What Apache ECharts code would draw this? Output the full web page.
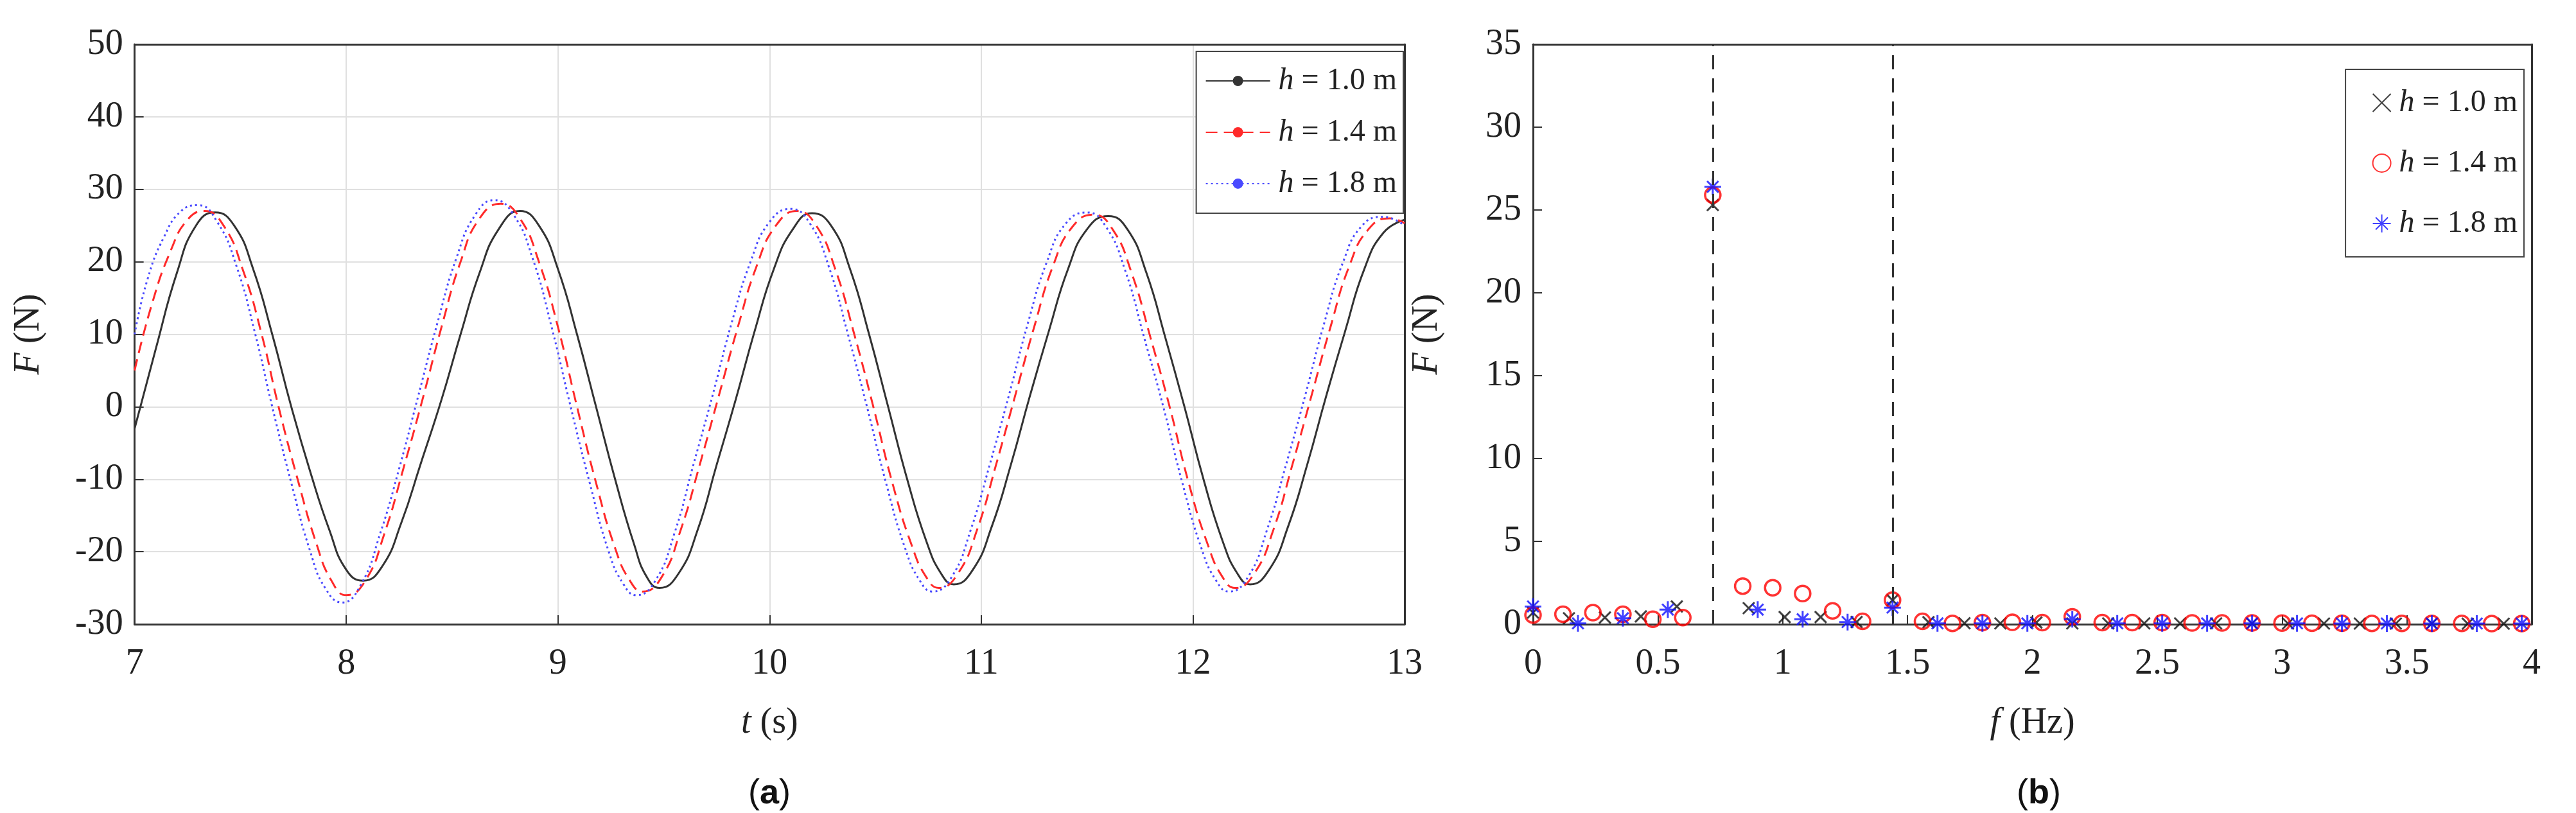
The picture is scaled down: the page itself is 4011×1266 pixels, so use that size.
<html>
<head>
<script src="https://cdn.jsdelivr.net/npm/echarts@6/dist/echarts.min.js"></script>
</head>
<body style="margin:0;background:#fff">
<div id="main" style="width:4011px;height:1266px;"></div>
<script>
  // (a) time series, [t (s), F (N)]
  var h10Time = [[7.0,-3],[7.1,8],[7.2,18.5],[7.29,25],[7.38,26.8],[7.47,25],[7.56,19],[7.65,10],[7.74,0],[7.83,-9],[7.92,-17],[8.0,-22.5],[8.08,-24],[8.17,-22],[8.26,-16],[8.35,-8],[8.45,1],[8.54,10],[8.63,18.5],[8.72,24.5],[8.82,27],[8.91,25],[9.0,19],[9.09,10],[9.18,0],[9.27,-10],[9.36,-19],[9.42,-23.5],[9.48,-25],[9.57,-23],[9.66,-17],[9.75,-8],[9.84,1],[9.93,10.5],[10.02,19],[10.11,24.5],[10.2,26.7],[10.29,25],[10.38,19],[10.47,10],[10.56,0],[10.65,-10],[10.74,-18.5],[10.81,-23],[10.87,-24.5],[10.96,-22.5],[11.05,-16.5],[11.14,-8],[11.23,1.5],[11.32,10.5],[11.41,19],[11.5,24.5],[11.6,26.3],[11.69,24.5],[11.78,18.5],[11.87,9.5],[11.96,0],[12.05,-10],[12.14,-18.5],[12.21,-23],[12.27,-24.5],[12.36,-22.5],[12.45,-16.5],[12.54,-8],[12.63,1.5],[12.72,10.5],[12.81,19],[12.9,24],[13.0,25.8]];
  var h14Time = [[7.0,5],[7.08,14],[7.17,21.5],[7.25,25.8],[7.33,27],[7.42,25],[7.51,19],[7.6,10],[7.68,0],[7.77,-10],[7.86,-19],[7.93,-24],[8.0,-26],[8.09,-24],[8.18,-17.5],[8.27,-8.5],[8.36,1],[8.45,11],[8.54,20],[8.63,26],[8.73,28],[8.82,26],[8.91,20],[9.0,11],[9.09,0],[9.18,-10.5],[9.27,-19.5],[9.34,-24],[9.4,-25.5],[9.49,-23.5],[9.58,-17],[9.67,-8],[9.76,1.5],[9.85,11],[9.94,19.5],[10.03,25],[10.13,27],[10.22,25],[10.31,19],[10.4,10],[10.49,0],[10.58,-10.5],[10.67,-19],[10.74,-23.5],[10.8,-25],[10.89,-23],[10.98,-17],[11.07,-8],[11.16,1.5],[11.25,11],[11.34,19.5],[11.43,24.8],[11.53,26.5],[11.62,24.5],[11.71,18.5],[11.8,9.5],[11.89,0],[11.98,-10.5],[12.07,-19],[12.14,-23.5],[12.2,-25],[12.29,-23],[12.38,-17],[12.47,-8],[12.56,1.5],[12.65,11],[12.74,19.5],[12.83,24.5],[12.93,26],[13.0,25.3]];
  var h18Time = [[7.0,10],[7.06,17.5],[7.14,23.5],[7.22,27],[7.3,27.8],[7.39,25.5],[7.48,19.5],[7.57,10],[7.65,0],[7.74,-10.5],[7.83,-20],[7.9,-25],[7.98,-27],[8.07,-24.5],[8.16,-17.5],[8.25,-8.5],[8.34,1.5],[8.43,11.5],[8.52,20.5],[8.61,26.5],[8.7,28.5],[8.79,26.5],[8.88,20.5],[8.97,11],[9.06,0],[9.15,-10.5],[9.24,-20],[9.31,-24.5],[9.37,-26],[9.46,-24],[9.55,-17.5],[9.64,-8],[9.73,1.5],[9.82,11.5],[9.91,20],[10.0,25.5],[10.1,27.3],[10.19,25.3],[10.28,19.3],[10.37,10],[10.46,0],[10.55,-10.5],[10.64,-19.5],[10.71,-24],[10.77,-25.5],[10.86,-23.5],[10.95,-17],[11.04,-8],[11.13,1.5],[11.22,11.5],[11.31,20],[11.4,25.3],[11.5,26.8],[11.59,24.8],[11.68,18.8],[11.77,9.5],[11.86,0],[11.95,-10.5],[12.04,-19.5],[12.11,-24],[12.17,-25.5],[12.26,-23.5],[12.35,-17],[12.44,-8],[12.53,1.5],[12.62,11.5],[12.71,20],[12.8,25],[12.9,26.2],[13.0,25]];

  // (b) spectra: frequency step and amplitudes per bin
  var h10Step = 0.144;
  var h10Amp = [0.7,0.36,0.4,0.47,1.07,25.3,0.97,0.43,0.43,0.13,1.45,0.12,0.06,0.05,0.1,0.05,0.05,0.05,0.05,0.05,0.04,0.04,0.04,0.04,0.04,0.04,0.03,0.03];
  var h14Step = 0.12;
  var h14Amp = [0.55,0.6,0.7,0.6,0.3,0.4,25.9,2.3,2.2,1.85,0.8,0.17,1.45,0.17,0.05,0.1,0.12,0.1,0.45,0.1,0.1,0.1,0.08,0.08,0.08,0.07,0.06,0.06,0.05,0.05,0.05,0.05,0.04,0.04];
  var h18Step = 0.18;
  var h18Amp = [1.07,0.05,0.36,0.88,26.4,0.88,0.3,0.13,1.0,0.05,0.05,0.05,0.3,0.05,0.05,0.05,0.05,0.05,0.04,0.04,0.04,0.04,0.04];
  var peakLines = [0.72, 1.44];

  var legendNames = ['h = 1.0 m', 'h = 1.4 m', 'h = 1.8 m'];

  function toPairs(step, amp) {
    return amp.map(function (v, i) { return [+(i * step).toFixed(3), v]; });
  }

  var font = 'Liberation Serif';
  var txt = { fontFamily: font, fontSize: 56, color: '#222' };
  var rich = { i: { fontFamily: font, fontStyle: 'italic', fontSize: 56, color: '#222' } };

  function xAx(idx, min, max, interval, nameHtml, grid) {
    return {
      gridIndex: idx, type: 'value', min: min, max: max, interval: interval,
      name: nameHtml, nameLocation: 'middle', nameGap: 92,
      nameTextStyle: { fontFamily: font, fontSize: 56, color: '#222', rich: rich },
      axisLine: { onZero: false, lineStyle: { color: '#333', width: 3 } },
      axisTick: { inside: true, length: 14, lineStyle: { color: '#333', width: 2 } },
      axisLabel: Object.assign({ margin: 20 }, txt),
      splitLine: { show: grid, lineStyle: { color: '#e0e0e0', width: 2 } }
    };
  }
  function yAx(idx, min, max, interval, grid) {
    return {
      gridIndex: idx, type: 'value', min: min, max: max, interval: interval,
      name: '{i|F} (N)', nameLocation: 'middle', nameRotate: 90, nameGap: 120,
      nameTextStyle: { fontFamily: font, fontSize: 56, color: '#222', rich: rich },
      axisLine: { onZero: false, lineStyle: { color: '#333', width: 3 } },
      axisTick: { inside: true, length: 14, lineStyle: { color: '#333', width: 2 } },
      axisLabel: Object.assign({ margin: 18 }, txt),
      splitLine: { show: grid, lineStyle: { color: '#e0e0e0', width: 2 } }
    };
  }
  // mirror axes for the box frame
  function frameX(idx, min, max) {
    return { gridIndex: idx, type: 'value', min: min, max: max, position: 'top',
      axisLine: { onZero: false, lineStyle: { color: '#333', width: 3 } },
      axisTick: { show: false }, axisLabel: { show: false }, splitLine: { show: false } };
  }
  function frameY(idx, min, max) {
    return { gridIndex: idx, type: 'value', min: min, max: max, position: 'right',
      axisLine: { onZero: false, lineStyle: { color: '#333', width: 3 } },
      axisTick: { show: false }, axisLabel: { show: false }, splitLine: { show: false } };
  }

  var legendFmt = function (n) { return '{i|h} = ' + n.slice(4).trim(); };
  var legendRich = { i: { fontFamily: font, fontStyle: 'italic', fontSize: 48, color: '#222', padding: [0, 0, 0, 8] } };

  var xMark = 'path://M0,0L10,10M10,0L0,10';
  var starMark = 'path://M5,0L5,10M0,5L10,5M1.6,1.6L8.4,8.4M8.4,1.6L1.6,8.4';

  var myChart = echarts.init(document.getElementById('main'));
  myChart.setOption({
    animation: false,
    backgroundColor: '#fff',
    title: [
      { text: '({b|a})', left: 1160, top: 1185, textStyle: { fontFamily: 'Liberation Sans', fontSize: 54, fontWeight: 'normal', color: '#111', rich: { b: { fontFamily: 'Liberation Sans', fontSize: 54, fontWeight: 'bold', color: '#111' } } } },
      { text: '({b|b})', left: 3135, top: 1185, textStyle: { fontFamily: 'Liberation Sans', fontSize: 54, fontWeight: 'normal', color: '#111', rich: { b: { fontFamily: 'Liberation Sans', fontSize: 54, fontWeight: 'bold', color: '#111' } } } }
    ],
    grid: [
      { left: 197, width: 1990, top: 69, height: 903 },
      { left: 2387, width: 1555, top: 69, height: 903 }
    ],
    legend: [
      { data: legendNames, right: 4011 - 2185, top: 80, orient: 'vertical',
        formatter: legendFmt, textStyle: { fontFamily: font, fontSize: 48, color: '#222', rich: legendRich },
        itemWidth: 100, itemHeight: 20, itemGap: 4, padding: [8, 10, 8, 14],
        borderColor: '#444', borderWidth: 2, backgroundColor: '#fff' },
      { data: [
          { name: 'h = 1.0 m ', icon: xMark },
          { name: 'h = 1.4 m ', icon: 'circle' },
          { name: 'h = 1.8 m ', icon: starMark }
        ], right: 4011 - 3930, top: 108, orient: 'vertical',
        formatter: legendFmt,
        textStyle: { fontFamily: font, fontSize: 48, color: '#222', rich: legendRich },
        itemWidth: 28, itemHeight: 28, itemGap: 18, padding: [14, 10, 14, 40],
        borderColor: '#444', borderWidth: 2, backgroundColor: '#fff' }
    ],
    xAxis: [
      xAx(0, 7, 13, 1, '{i|t} (s)', true),
      xAx(1, 0, 4, 0.5, '{i|f} (Hz)', false),
      frameX(0, 7, 13), frameX(1, 0, 4)
    ],
    yAxis: [
      yAx(0, -30, 50, 10, true),
      yAx(1, 0, 35, 5, false),
      frameY(0, -30, 50), frameY(1, 0, 35)
    ],
    series: [
      { name: legendNames[0], type: 'line', xAxisIndex: 0, yAxisIndex: 0, data: h10Time, smooth: 0.5, symbol: 'none',
        lineStyle: { color: '#333', width: 3 }, itemStyle: { color: '#333' } },
      { name: legendNames[1], type: 'line', xAxisIndex: 0, yAxisIndex: 0, data: h14Time, smooth: 0.5, symbol: 'none',
        lineStyle: { color: '#ff2a2a', width: 3, type: [18, 10] }, itemStyle: { color: '#ff2a2a' } },
      { name: legendNames[2], type: 'line', xAxisIndex: 0, yAxisIndex: 0, data: h18Time, smooth: 0.5, symbol: 'none',
        lineStyle: { color: '#4a4aff', width: 3, type: [3, 5] }, itemStyle: { color: '#4a4aff' } },
      { name: 'h = 1.0 m ', type: 'scatter', xAxisIndex: 1, yAxisIndex: 1, data: toPairs(h10Step, h10Amp),
        symbol: xMark, symbolSize: 18, itemStyle: { color: 'none', borderColor: '#111', borderWidth: 3 },
        markLine: { silent: true, symbol: 'none', label: { show: false },
          lineStyle: { color: '#333', width: 3, type: [22, 14] },
          data: peakLines.map(function (f) { return { xAxis: f }; }) } },
      { name: 'h = 1.4 m ', type: 'scatter', xAxisIndex: 1, yAxisIndex: 1, data: toPairs(h14Step, h14Amp),
        symbol: 'circle', symbolSize: 24, itemStyle: { color: 'none', borderColor: '#ff0000', borderWidth: 3.5 } },
      { name: 'h = 1.8 m ', type: 'scatter', xAxisIndex: 1, yAxisIndex: 1, data: toPairs(h18Step, h18Amp),
        symbol: starMark, symbolSize: 26, itemStyle: { color: 'none', borderColor: '#1010ff', borderWidth: 3 } }
    ]
  });
</script>
</body>
</html>
